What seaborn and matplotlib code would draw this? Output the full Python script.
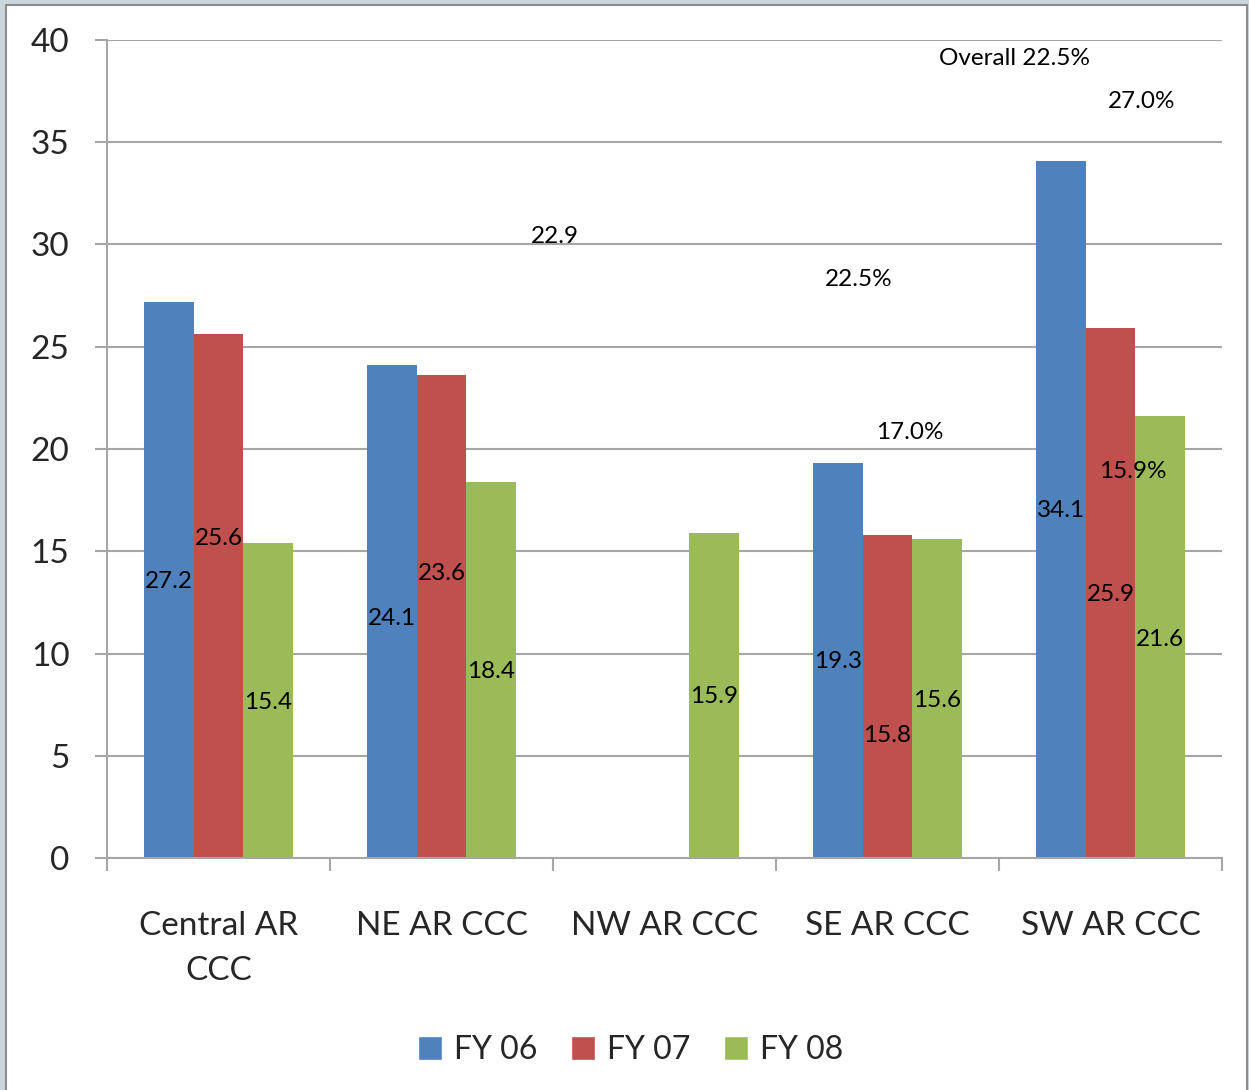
import pandas as pd
import numpy as np
import matplotlib.pyplot as plt
import seaborn as sns
from matplotlib.patches import Patch, Rectangle

sns.set_style("white")
plt.rcParams['font.family'] = ['Lato', 'DejaVu Sans']

# Data
centers = ["Central AR\nCCC", "NE AR CCC", "NW AR CCC", "SE AR CCC", "SW AR CCC"]
years = ["FY 06", "FY 07", "FY 08"]
fy06 = [27.2, 24.1, np.nan, 19.3, 34.1]
fy07 = [25.6, 23.6, np.nan, 15.8, 25.9]
fy08 = [15.4, 18.4, 15.9, 15.6, 21.6]
# where the value labels sit (data units)
lab06 = [13.5, 11.7, np.nan, 9.6, 17.0]
lab07 = [15.6, 13.9, np.nan, 6.0, 12.9]
lab08 = [7.6, 9.1, 7.9, 7.7, 10.7]
# loose annotations floating in the chart
notes = ["22.9", "22.5%", "17.0%", "Overall 22.5%", "27.0%", "15.9%"]
notes_x = [1.51, 2.87, 3.10, 3.57, 4.14, 4.10]
notes_y = [30.4, 28.3, 20.8, 39.1, 37.0, 18.9]

colors = ["#4F81BD", "#C0504D", "#9BBB59"]

df = pd.DataFrame({
    "Center": centers * 3,
    "Year": [y for y in years for _ in centers],
    "Value": fy06 + fy07 + fy08,
    "Label": lab06 + lab07 + lab08,
})
df_bars = df.dropna(subset=["Value"])

fig = plt.figure(figsize=(12.49, 10.90), dpi=100)
fig.patch.set_facecolor("#cbd5dc")
fig.patches.append(Rectangle((6 / 1249, -0.05), (1247 - 6) / 1249, 1.05 - 5 / 1090,
                             transform=fig.transFigure, facecolor="white",
                             edgecolor="#8c8c8c", linewidth=1.5, zorder=-1))

ax = fig.add_axes([107 / 1249, (1090 - 858) / 1090, (1222 - 107) / 1249, 818 / 1090])
ax.set_facecolor("none")

sns.barplot(data=df_bars, x="Center", y="Value", hue="Year", order=centers,
            hue_order=years, palette=colors, width=0.67, saturation=1,
            linewidth=0, errorbar=None, legend=False, ax=ax)

# value labels inside bars
step = 0.67 / 3
for j, yr in enumerate(years):
    sub = df[df["Year"] == yr]
    for i, (v, ly) in enumerate(zip(sub["Value"], sub["Label"])):
        if np.isnan(v):
            continue
        ax.text(i - 0.67 / 2 + step * (j + 0.5), ly, f"{v:.1f}",
                ha="center", va="center", fontsize=17.5, color="black")

for t, x, y in zip(notes, notes_x, notes_y):
    ax.text(x, y, t, ha="center", va="center", fontsize=17.5, color="black")

ax.set_ylim(0, 40)
ax.set_xlim(-0.5, 4.5)
ax.set_yticks(range(0, 41, 5))
ax.yaxis.grid(True, color="#a6a6a6", linewidth=1.5)
ax.set_axisbelow(True)
ax.set_xlabel("")
ax.set_ylabel("")

for s in ["top", "right"]:
    ax.spines[s].set_visible(False)
for s in ["left", "bottom"]:
    ax.spines[s].set_color("#a6a6a6")
    ax.spines[s].set_linewidth(1.5)

ax.tick_params(axis="y", length=9, width=1.5, color="#a6a6a6", pad=18,
               labelsize=24, direction="out", left=True)
ax.set_xticks(np.arange(-0.5, 5, 1), minor=True)
ax.tick_params(axis="x", which="major", length=0, pad=38, labelsize=24)
ax.tick_params(axis="x", which="minor", length=9, width=1.5, color="#a6a6a6",
               direction="out", bottom=True)
for lbl in ax.get_xticklabels():
    lbl.set_linespacing(1.65)

handles = [Patch(facecolor=c, label=y) for c, y in zip(colors, years)]
fig.legend(handles=handles, loc="center", bbox_to_anchor=(631 / 1249, 1 - 1050 / 1090),
           ncol=3, frameon=False, fontsize=23, handlelength=0.75, handleheight=0.75,
           handletextpad=0.38, columnspacing=1.05)

fig.savefig("out.png", dpi=100, facecolor=fig.get_facecolor())
